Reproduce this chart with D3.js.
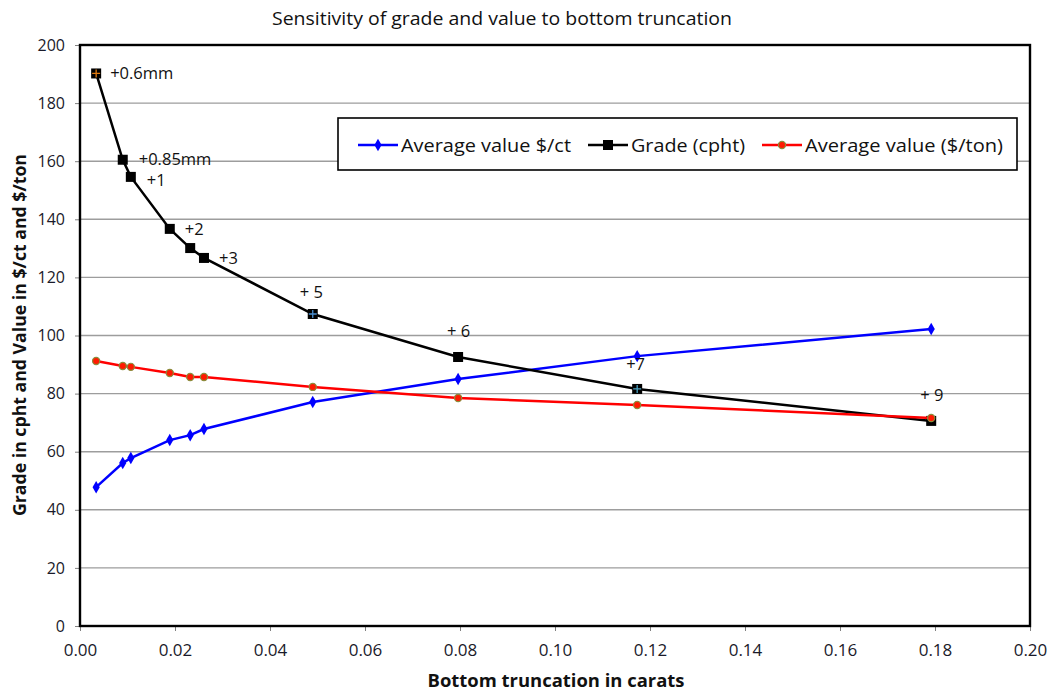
<!DOCTYPE html>
<html><head><meta charset="utf-8">
<script src="https://cdn.jsdelivr.net/npm/d3@7"></script>
<style>body{margin:0;background:#fff;} text{font-family:"Open Sans","Noto Sans",sans-serif;}</style>
</head><body><svg id="c" width="1051" height="693"></svg>
<script>
const truncation = [0.0034, 0.0090, 0.0107, 0.0189, 0.0232, 0.0261, 0.0490, 0.0796, 0.1173, 0.1792];
const avgValueCt = [47.8, 56.1, 57.8, 64.0, 65.7, 67.8, 77.1, 85.0, 92.9, 102.2];
const grade = [190.2, 160.5, 154.6, 136.7, 130.1, 126.7, 107.4, 92.6, 81.6, 70.6];
const avgValueTon = [91.2, 89.5, 89.2, 87.1, 85.7, 85.7, 82.3, 78.5, 76.1, 71.6];
const pointLabels = ["+0.6mm", "+0.85mm", "+1", "+2", "+3", "+ 5", "+ 6", "+7", "+ 9"];
const labelIndex = [0, 1, 2, 3, 5, 6, 7, 8, 9];
const xTicks = [0, 0.02, 0.04, 0.06, 0.08, 0.10, 0.12, 0.14, 0.16, 0.18, 0.20];
const yTicks = [0, 20, 40, 60, 80, 100, 120, 140, 160, 180, 200];
const seriesNames = ["Average value $/ct", "Grade (cpht)", "Average value ($/ton)"];

const svg = d3.select("#c");
const L = 80, R = 1030, T = 45, B = 626;
const x = d3.scaleLinear().domain([0, 0.2]).range([L, R]);
const y = d3.scaleLinear().domain([0, 200]).range([B, T]);

// title
svg.append("text").attr("x", 502).attr("y", 25).attr("text-anchor", "middle")
  .attr("textLength", 460).attr("lengthAdjust", "spacingAndGlyphs")
  .style("font-size", "19px").attr("fill", "#111").text("Sensitivity of grade and value to bottom truncation");

// gridlines
svg.append("g").selectAll("line").data(yTicks.filter(d => d > 0 && d < 200)).join("line")
  .attr("x1", L).attr("x2", R).attr("y1", d => y(d)).attr("y2", d => y(d))
  .attr("stroke", "#9d9d9d").attr("stroke-width", 1.4);

// axes
const xAxis = d3.axisBottom(x).tickValues(xTicks).tickFormat(d3.format(".2f")).tickSize(5).tickSizeOuter(0);
const gx = svg.append("g").attr("transform", `translate(0,${B})`).call(xAxis);
gx.select(".domain").remove();
gx.selectAll(".tick line").attr("stroke", "#808080");
gx.selectAll("text").style("font-size", "17px").attr("fill", "#1a1a2a").attr("y", 0).attr("dy", 0)
  .attr("transform", "translate(0,30)");

const yAxis = d3.axisLeft(y).tickValues(yTicks).tickSize(5).tickSizeOuter(0);
const gy = svg.append("g").attr("transform", `translate(${L},0)`).call(yAxis);
gy.select(".domain").remove();
gy.selectAll(".tick line").attr("stroke", "#808080");
gy.selectAll("text").style("font-size", "16px").attr("fill", "#1a1a2a").attr("x", -15);

// plot border
svg.append("rect").attr("x", L).attr("y", T).attr("width", R - L).attr("height", B - T)
  .attr("fill", "none").attr("stroke", "#000").attr("stroke-width", 2.4);

// axis titles
svg.append("text").attr("x", 556).attr("y", 687).attr("text-anchor", "middle")
  .attr("textLength", 257).attr("lengthAdjust", "spacingAndGlyphs")
  .style("font-size", "18.5px").style("font-weight", "bold").attr("fill", "#111")
  .text("Bottom truncation in carats");
svg.append("text").attr("transform", "translate(26,335) rotate(-90)").attr("text-anchor", "middle")
  .attr("textLength", 362).attr("lengthAdjust", "spacingAndGlyphs")
  .style("font-size", "18px").style("font-weight", "bold").attr("fill", "#111")
  .text("Grade in cpht and Value in $/ct and $/ton");

const line = d3.line().x(d => x(d[0])).y(d => y(d[1]));
const blueData = truncation.map((t, i) => [t, avgValueCt[i]]);
const blackData = truncation.map((t, i) => [t, grade[i]]);
const redData = truncation.map((t, i) => [t, avgValueTon[i]]);

// blue
svg.append("path").datum(blueData).attr("d", line).attr("fill", "none").attr("stroke", "#0000ff").attr("stroke-width", 2.5);
svg.append("g").selectAll("path").data(blueData).join("path")
  .attr("transform", d => `translate(${x(d[0])},${y(d[1])})`)
  .attr("d", d3.symbol(d3.symbolDiamond, 45)).attr("fill", "#0000ff");
// black
svg.append("path").datum(blackData).attr("d", line).attr("fill", "none").attr("stroke", "#000").attr("stroke-width", 2.5);
svg.append("g").selectAll("rect").data(blackData).join("rect")
  .attr("x", d => x(d[0]) - 5).attr("y", d => y(d[1]) - 5).attr("width", 10).attr("height", 10).attr("fill", "#000");
// small crosses visible inside a few grade markers
const crossIdx = [0, 6, 8];
const crossCol = ["#e07a10", "#4a8fd0", "#4aa0c0"];
svg.append("g").selectAll("path").data(crossIdx).join("path")
  .attr("transform", d => `translate(${x(truncation[d])},${y(grade[d])})`)
  .attr("d", "M-4,0H4M0,-4V4").attr("stroke", (d, i) => crossCol[i]).attr("stroke-width", 1.3);
// red
svg.append("path").datum(redData).attr("d", line).attr("fill", "none").attr("stroke", "#ff0000").attr("stroke-width", 2.5);
svg.append("g").selectAll("circle").data(redData).join("circle")
  .attr("cx", d => x(d[0])).attr("cy", d => y(d[1])).attr("r", 3.6)
  .attr("fill", "#ff1a00").attr("stroke", "#8c8c3c").attr("stroke-width", 1.2);

// point labels
const labelOffsets = [[14, 6], [16, 5], [16, 9], [15, 6], [15, 6], [-13, -16], [-11, -20], [-11, -19], [-11, -20]];
svg.append("g").selectAll("text").data(pointLabels).join("text")
  .attr("x", (d, i) => x(truncation[labelIndex[i]]) + labelOffsets[i][0])
  .attr("y", (d, i) => y(grade[labelIndex[i]]) + labelOffsets[i][1])
  .style("font-size", "16.5px").attr("fill", "#111").text(d => d);

// legend
const lg = svg.append("g");
lg.append("rect").attr("x", 338).attr("y", 118).attr("width", 679).attr("height", 52)
  .attr("fill", "#fff").attr("stroke", "#000").attr("stroke-width", 1.6);
const legX = [358, 588, 762];
const legTextLen = [170, 114, 198];
seriesNames.forEach((name, i) => {
  const lx = legX[i], ly = 145;
  const col = ["#0000ff", "#000", "#ff0000"][i];
  lg.append("line").attr("x1", lx).attr("x2", lx + 40).attr("y1", ly).attr("y2", ly).attr("stroke", col).attr("stroke-width", 2.5);
  if (i === 0) lg.append("path").attr("transform", `translate(${lx + 20},${ly})`).attr("d", d3.symbol(d3.symbolDiamond, 45)).attr("fill", col);
  if (i === 1) lg.append("rect").attr("x", lx + 15).attr("y", ly - 5).attr("width", 10).attr("height", 10).attr("fill", col);
  if (i === 2) lg.append("circle").attr("cx", lx + 20).attr("cy", ly).attr("r", 3.6).attr("fill", "#ff1a00").attr("stroke", "#8c8c3c").attr("stroke-width", 1.2);
  lg.append("text").attr("x", lx + 43).attr("y", ly + 7).style("font-size", "19px")
    .attr("textLength", legTextLen[i]).attr("lengthAdjust", "spacingAndGlyphs")
    .attr("fill", "#111").text(name);
});
</script></body></html>
